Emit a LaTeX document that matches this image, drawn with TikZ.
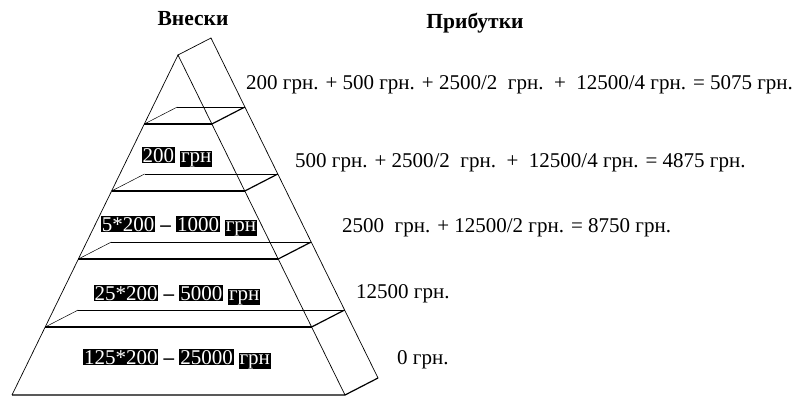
\documentclass[tikz,border=0pt]{standalone}
\usepackage{fontspec}
\setmainfont{Liberation Serif}
\newcommand{\hl}[1]{{\setlength{\fboxsep}{0.8pt}\colorbox{black}{\textcolor{white}{#1}}}}

\begin{document}
\begin{tikzpicture}[x=1pt, y=-1pt,
    lbl/.style={anchor=base west, inner sep=0pt, font=\fontsize{21}{25}\selectfont},
    inlbl/.style={anchor=base, inner sep=0pt, font=\fontsize{21}{25}\selectfont},
    head/.style={inner sep=0pt, font=\fontsize{21.5}{25}\selectfont\bfseries},
    front/.style={line width=1.2pt},
    back/.style={line width=0.5pt},
    edge/.style={line width=0.7pt}]
    \useasboundingbox (0,0) rectangle (800,396);
    \def\dx{33}
    \def\dy{-17}

    % Pyramid outline
    \coordinate (apex) at (178,55);
    \coordinate (apexB) at (211,38);
    \coordinate (baseL) at (12,395);
    \coordinate (baseR) at (345,395);
    \coordinate (baseRB) at (378,378);
    \draw[edge] (baseL) -- (apex) -- (baseR);
    \draw[edge] (apex) -- (apexB) -- (baseRB);
    \draw[front] (baseL) -- (baseR) -- (baseRB);

    % Layers
    \foreach \y in {124,191,259,327} {
        \pgfmathsetmacro{\xl}{178 - 166/340*(\y-55)}
        \pgfmathsetmacro{\xr}{178 + 167/340*(\y-55)}
        \draw[front] (\xl,\y) -- (\xr,\y);
        \draw[back] (\xl+\dx,\y+\dy) -- (\xr+\dx,\y+\dy);
        \draw[back] (\xl,\y) -- ++(\dx,\dy);
        \draw[front] (\xr,\y) -- ++(\dx,\dy);
    }

    % Headings
    \node[head] (vnesky) at (193,19) {Внески};
    \node[head] (prybutky) at (475,23) {Прибутки};

    % Contributions
    \node[inlbl] (c1) at (177,162) {\hl{200} \hl{грн}};
    \node[inlbl] (c2) at (179,231) {\hl{5*200} \textbf{–} \hl{1000} \hl{грн}};
    \node[inlbl] (c3) at (177,300) {\hl{25*200} \textbf{–} \hl{5000} \hl{грн}};
    \node[inlbl] (c4) at (177,364) {\hl{125*200} \textbf{–} \hl{25000} \hl{грн}};

    % Profits
    \node[lbl] (p1) at (246,89) {200 грн. + 500 грн. + 2500/2\ \ грн.\ \ +\ \ 12500/4 грн. = 5075 грн.};
    \node[lbl] (p2) at (295,167) {500 грн. + 2500/2\ \ грн.\ \ +\ \ 12500/4 грн. = 4875 грн.};
    \node[lbl] (p3) at (342,232) {2500\ \ грн. + 12500/2 грн. = 8750 грн.};
    \node[lbl] (p4) at (356,298) {12500 грн.};
    \node[lbl] (p5) at (397,364) {0 грн.};
\end{tikzpicture}
\end{document}
